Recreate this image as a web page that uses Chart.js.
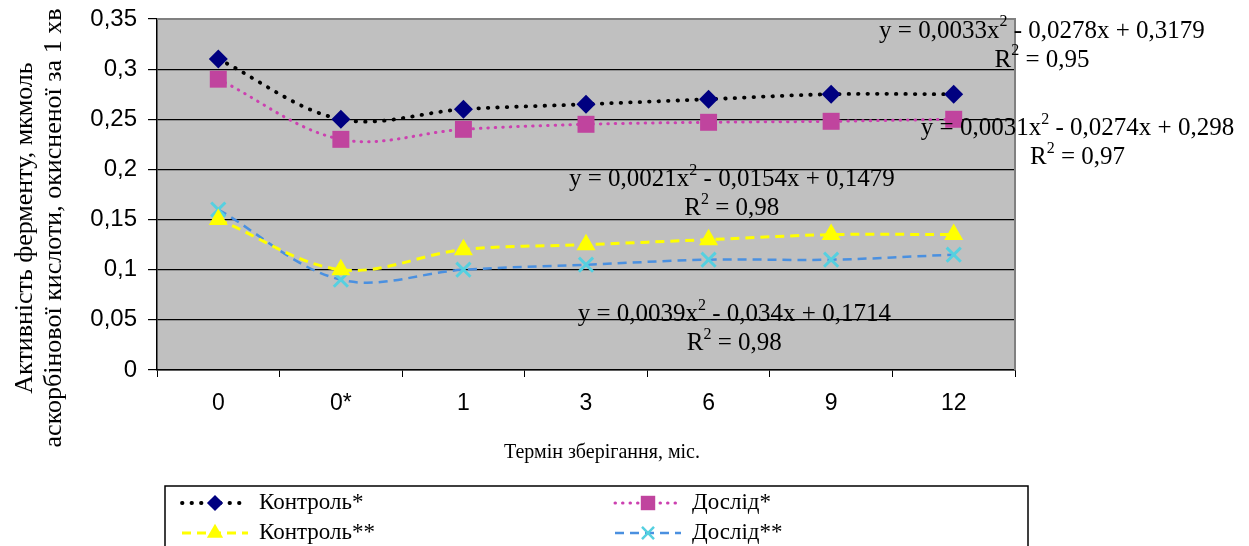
<!DOCTYPE html>
<html>
<head>
<meta charset="utf-8">
<script src="https://cdn.jsdelivr.net/npm/chart.js@4/dist/chart.umd.min.js"></script>
<style>
  html, body { margin: 0; padding: 0; background: #fff; }
  canvas { display: block; }
</style>
</head>
<body>
<canvas id="chart" width="1249" height="546"></canvas>
<script>
const categories = ["0", "0*", "1", "3", "6", "9", "12"];
const seriesNames = ["Контроль*", "Дослід*", "Контроль**", "Дослід**"];
const control1 = [0.31, 0.25, 0.26, 0.265, 0.27, 0.275, 0.275];
const experiment1 = [0.29, 0.23, 0.24, 0.245, 0.247, 0.248, 0.25];
const control2 = [0.15, 0.10, 0.12, 0.125, 0.13, 0.135, 0.135];
const experiment2 = [0.16, 0.09, 0.10, 0.105, 0.11, 0.11, 0.115];
const yMin = 0, yMax = 0.35, yStep = 0.05;

// trendline equations: [before sup, sup, after sup], then R² value
const trendEquations = [
  ["y = 0,0033x", "2", " - 0,0278x + 0,3179"],
  ["y = 0,0031x", "2", " - 0,0274x + 0,298"],
  ["y = 0,0021x", "2", " - 0,0154x + 0,1479"],
  ["y = 0,0039x", "2", " - 0,034x + 0,1714"]
];
const trendR2 = ["0,95", "0,97", "0,98", "0,98"];

const yTitle = ["Активність ферменту, мкмоль", "аскорбінової кислоти, окисненої за 1 хв"];
const xTitle = "Термін зберігання, міс.";

const serif = "'Liberation Serif', 'Times New Roman', serif";
const sans = "'Liberation Sans', Arial, sans-serif";

const styles = [
  { line: "#000000", dash: [0.5, 9], width: 3.8, cap: "round", marker: "rectRot", fill: "#000080", radius: 9.5 },
  { line: "#cc40b0", dash: [0.5, 7], width: 3, cap: "round", marker: "rect", fill: "#c0449e", radius: 12 },
  { line: "#ffff00", dash: [9, 6], width: 3, cap: "butt", marker: "triangle", fill: "#ffff00", radius: 11 },
  { line: "#4a90e0", dash: [9, 6], width: 2.5, cap: "butt", marker: "crossRot", fill: "#55d0e0", radius: 10 }
];
const values = [control1, experiment1, control2, experiment2];

function drawMarker(ctx, type, x, y, r, color) {
  ctx.save();
  ctx.setLineDash([]);
  ctx.fillStyle = color;
  ctx.strokeStyle = color;
  ctx.beginPath();
  if (type === "rectRot") {
    ctx.moveTo(x, y - r); ctx.lineTo(x + r, y); ctx.lineTo(x, y + r); ctx.lineTo(x - r, y);
    ctx.closePath(); ctx.fill();
  } else if (type === "rect") {
    const s = r * Math.SQRT1_2;
    ctx.rect(x - s, y - s, 2 * s, 2 * s); ctx.fill();
  } else if (type === "triangle") {
    const h = r * 0.866;
    ctx.moveTo(x, y - r); ctx.lineTo(x + h, y + r / 2); ctx.lineTo(x - h, y + r / 2);
    ctx.closePath(); ctx.fill();
  } else {
    const s = r * Math.SQRT1_2;
    ctx.lineWidth = 2.5;
    ctx.moveTo(x - s, y - s); ctx.lineTo(x + s, y + s);
    ctx.moveTo(x + s, y - s); ctx.lineTo(x - s, y + s);
    ctx.stroke();
  }
  ctx.restore();
}

function drawSupText(ctx, parts, cx, cy, size) {
  const big = size + "px " + serif;
  const small = Math.round(size * 0.65) + "px " + serif;
  ctx.font = big;
  const w1 = ctx.measureText(parts[0]).width;
  const w3 = ctx.measureText(parts[2]).width;
  ctx.font = small;
  const w2 = ctx.measureText(parts[1]).width;
  let x = cx - (w1 + w2 + w3) / 2;
  ctx.textAlign = "left";
  ctx.textBaseline = "middle";
  ctx.font = big;
  ctx.fillText(parts[0], x, cy);
  x += w1;
  ctx.font = small;
  ctx.fillText(parts[1], x, cy - size * 0.35);
  x += w2;
  ctx.font = big;
  ctx.fillText(parts[2], x, cy);
}

const decorPlugin = {
  id: "decor",
  beforeDraw(chart) {
    const { ctx, chartArea: a } = chart;
    ctx.save();
    ctx.fillStyle = "#c0c0c0";
    ctx.fillRect(a.left, a.top, a.right - a.left, a.bottom - a.top);
    ctx.restore();
  },
  beforeDatasetsDraw(chart) {
    const { ctx, chartArea: a } = chart;
    ctx.save();
    ctx.strokeStyle = "#808080";
    ctx.lineWidth = 2;
    ctx.beginPath();
    ctx.moveTo(a.left, a.top);
    ctx.lineTo(a.right, a.top);
    ctx.lineTo(a.right, a.bottom);
    ctx.stroke();
    ctx.restore();
  },
  afterDraw(chart) {
    const { ctx, chartArea: a } = chart;
    const xs = chart.scales.x, ys = chart.scales.y;
    ctx.save();
    ctx.fillStyle = "#000";

    // trendline labels, placed in data units
    const anchors = [[6.72, 0.338], [7.01, 0.241], [4.19, 0.19], [4.21, 0.055]];
    trendEquations.forEach((eq, i) => {
      const cx = xs.getPixelForValue(anchors[i][0]);
      const cy = ys.getPixelForValue(anchors[i][1]);
      drawSupText(ctx, eq, cx, cy, 25);
      drawSupText(ctx, ["R", "2", " = " + trendR2[i]], cx, cy + 29, 25);
    });

    // y title
    ctx.font = "26px " + serif;
    ctx.textAlign = "center";
    ctx.textBaseline = "middle";
    const midY = 228;
    [25, 54].forEach((tx, i) => {
      ctx.save();
      ctx.translate(tx, midY);
      ctx.rotate(-Math.PI / 2);
      ctx.fillText(yTitle[i], 0, 0);
      ctx.restore();
    });

    // x title
    ctx.font = "20px " + serif;
    ctx.fillText(xTitle, (a.left + a.right) / 2 + 16, 453);

    // legend box
    ctx.strokeStyle = "#000";
    ctx.lineWidth = 1.5;
    ctx.strokeRect(165, 486, 863, 80);
    const cols = [182, 615], rows = [503, 533];
    ctx.font = "23px " + serif;
    ctx.textAlign = "left";
    seriesNames.forEach((name, i) => {
      const st = styles[i];
      const x0 = cols[i % 2], y0 = rows[Math.floor(i / 2)];
      ctx.save();
      ctx.strokeStyle = st.line;
      ctx.lineWidth = st.width;
      ctx.lineCap = st.cap;
      ctx.setLineDash(st.dash);
      ctx.beginPath();
      ctx.moveTo(x0, y0);
      ctx.lineTo(x0 + 66, y0);
      ctx.stroke();
      ctx.restore();
      drawMarker(ctx, st.marker, x0 + 33, y0, st.radius * 0.85, st.fill);
      ctx.fillStyle = "#000";
      ctx.fillText(name, x0 + 77, y0);
    });
    ctx.restore();
  }
};

const chart = new Chart(document.getElementById("chart").getContext("2d"), {
  type: "line",
  data: {
    labels: categories,
    datasets: seriesNames.map((name, i) => ({
      label: name,
      data: values[i],
      borderColor: styles[i].line,
      borderWidth: styles[i].width,
      borderDash: styles[i].dash,
      borderCapStyle: styles[i].cap,
      tension: 0.35,
      fill: false,
      pointStyle: styles[i].marker,
      pointRadius: styles[i].radius,
      pointBackgroundColor: styles[i].fill,
      pointBorderColor: styles[i].fill,
      pointBorderWidth: styles[i].marker === "crossRot" ? 3 : 0
    }))
  },
  options: {
    responsive: false,
    animation: false,
    layout: { padding: { left: 0, top: 19, right: 234, bottom: 0 } },
    plugins: { legend: { display: false }, tooltip: { enabled: false } },
    scales: {
      x: {
        offset: true,
        grid: { offset: true, drawOnChartArea: false, color: "#000", tickLength: 7 },
        border: { color: "#000", width: 1.5 },
        ticks: { color: "#000", font: { family: sans, size: 23 }, padding: 13 },
        afterFit: s => { s.height = 176; s.paddingLeft = 0; s.paddingRight = 0; }
      },
      y: {
        min: yMin,
        max: yMax,
        grid: {
          color: c => (c.tick && c.tick.value > yMax - 0.01 ? "#808080" : "#000"),
          tickColor: "#000",
          lineWidth: 1.2,
          tickLength: 9
        },
        border: { color: "#000", width: 1.5 },
        ticks: {
          stepSize: yStep,
          color: "#000",
          padding: 11,
          font: { family: sans, size: 24 },
          callback: v => String(Number(v.toFixed(2))).replace(".", ",")
        },
        afterFit: s => { s.width = 157; s.paddingTop = 0; s.paddingBottom = 0; }
      }
    }
  },
  plugins: [decorPlugin]
});
</script>
</body>
</html>
